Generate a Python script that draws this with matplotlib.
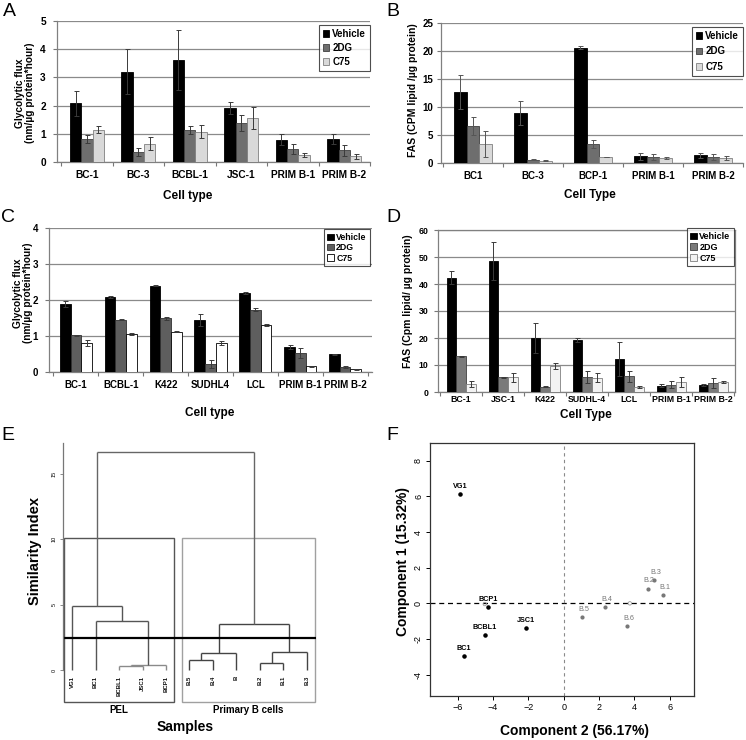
import numpy as np
import matplotlib
matplotlib.use('Agg')
import matplotlib.pyplot as plt
from matplotlib.patches import Rectangle
from matplotlib.patches import Patch

W, H = 746, 740
plt.rcParams['font.family'] = ['Liberation Sans', 'DejaVu Sans']

# ---------------- data ----------------
series = ['Vehicle', '2DG', 'C75']

a_cats = ['BC-1', 'BC-3', 'BCBL-1', 'JSC-1', 'PRIM B-1', 'PRIM B-2']
a_vehicle = [2.08, 3.20, 3.62, 1.91, 0.79, 0.81]
a_vehicle_err = [0.45, 0.79, 1.07, 0.22, 0.20, 0.18]
a_2dg = [0.82, 0.34, 1.14, 1.38, 0.47, 0.42]
a_2dg_err = [0.14, 0.14, 0.14, 0.28, 0.18, 0.19]
a_c75 = [1.14, 0.65, 1.08, 1.55, 0.24, 0.20]
a_c75_err = [0.12, 0.22, 0.24, 0.39, 0.08, 0.08]

b_cats = ['BC1', 'BC-3', 'BCP-1', 'PRIM B-1', 'PRIM B-2']
b_vehicle = [12.7, 8.9, 20.6, 1.18, 1.36]
b_vehicle_err = [3.0, 2.2, 0.3, 0.6, 0.5]
b_2dg = [6.6, 0.6, 3.4, 1.07, 1.0]
b_2dg_err = [1.65, 0.1, 0.77, 0.5, 0.55]
b_c75 = [3.4, 0.42, 1.07, 0.89, 0.83]
b_c75_err = [2.4, 0.05, 0.0, 0.2, 0.35]

c_cats = ['BC-1', 'BCBL-1', 'K422', 'SUDHL4', 'LCL', 'PRIM B-1', 'PRIM B-2']
c_vehicle = [1.89, 2.08, 2.40, 1.44, 2.19, 0.69, 0.49]
c_vehicle_err = [0.08, 0.02, 0.02, 0.17, 0.02, 0.05, 0.02]
c_2dg = [1.02, 1.45, 1.49, 0.22, 1.73, 0.53, 0.14]
c_2dg_err = [0.01, 0.01, 0.05, 0.11, 0.04, 0.14, 0.03]
c_c75 = [0.80, 1.06, 1.12, 0.80, 1.31, 0.16, 0.07]
c_c75_err = [0.08, 0.02, 0.01, 0.05, 0.03, 0.02, 0.01]

d_cats = ['BC-1', 'JSC-1', 'K422', 'SUDHL-4', 'LCL', 'PRIM B-1', 'PRIM B-2']
d_vehicle = [42.4, 48.5, 20.0, 19.3, 12.2, 2.3, 2.7]
d_vehicle_err = [2.4, 6.9, 5.7, 0.6, 6.3, 0.6, 0.3]
d_2dg = [13.2, 5.4, 2.0, 5.7, 5.8, 2.7, 3.3]
d_2dg_err = [0.3, 0.3, 0.2, 2.2, 2.1, 1.2, 1.8]
d_c75 = [3.0, 5.5, 9.7, 5.3, 1.9, 3.6, 3.7]
d_c75_err = [1.2, 1.7, 1.0, 1.7, 0.3, 1.9, 0.5]

e_leaves = ['VG1', 'BC1', 'BCBL1', 'JSC1', 'BCP1', 'B.5', 'B.4', 'B', 'B.2', 'B.1', 'B.3']
e_merge_left = [-3, 1, -2, -1, -6, 5, -9, 7, 6, 4]
e_merge_right = [-4, -5, 2, 3, -7, -8, -10, -11, 8, 9]
e_merge_height = [0.33, 0.40, 3.76, 4.90, 0.76, 1.27, 0.51, 1.37, 3.49, 16.67]
e_cut = 2.42
e_groups = ['PEL', 'Primary B cells']
e_group_first = [1, 6]
e_group_last = [5, 11]

f_pel_names = ['VG1', 'BCP1', 'BCBL1', 'BC1', 'JSC1']
f_pel_x = [-5.85, -4.28, -4.47, -5.64, -2.13]
f_pel_y = [6.13, -0.23, -1.78, -2.96, -1.41]
f_b_names = ['B.5', 'B.4', 'B.6', 'B.2', 'B.3', 'B.1']
f_b_x = [1.04, 2.36, 3.60, 4.74, 5.11, 5.62]
f_b_y = [-0.79, -0.23, -1.28, 0.83, 1.31, 0.45]
f_extra_x = [-4.47, 3.74]
f_extra_y = [-0.04, 0.0]

# ---------------- helpers ----------------
fig = plt.figure(figsize=(W / 100, H / 100), dpi=100)


def px_axes(l, t, r, b):
    return fig.add_axes([l / W, 1 - b / H, (r - l) / W, (b - t) / H])


def ftext(x, y, s, **kw):
    fig.text(x / W, 1 - y / H, s, **kw)


def bar_panel(ax, cats, vals, errs, fills, edges, width, ymax, ystep, xlim,
              fs_tick, leg_anchor, leg_fs, leg_spacing, frame=False, ecol='#3a3a3a',
              xpad=6, ypad=5):
    x = np.arange(len(cats))
    for i in range(3):
        ax.bar(x + (i - 1) * width, vals[i], width, yerr=errs[i], color=fills[i],
               edgecolor=edges[i], linewidth=0.6, label=series[i], zorder=3,
               error_kw=dict(ecolor=ecol, elinewidth=0.7, capsize=1.8, capthick=0.7, zorder=4))
    ax.set_xlim(*xlim)
    ax.set_ylim(0, ymax)
    ax.set_yticks(np.arange(0, ymax + 1e-6, ystep))
    ax.yaxis.grid(True, color='#8a8a8a', lw=0.9)
    ax.set_axisbelow(True)
    ax.set_xticks(x)
    ax.set_xticklabels(cats, fontsize=fs_tick, fontweight='bold')
    ax.set_xticks(np.arange(-0.5, len(cats)), minor=True)
    ax.tick_params(axis='x', which='major', length=0, pad=xpad)
    ax.tick_params(axis='x', which='minor', length=3, color='#777777', width=0.8)
    ax.tick_params(axis='y', length=3, color='#777777', labelsize=fs_tick, pad=ypad, width=0.8)
    for t in ax.get_yticklabels():
        t.set_fontweight('bold')
    for s in ['left', 'bottom']:
        ax.spines[s].set_color('#808080')
        ax.spines[s].set_linewidth(0.9)
    for s in ['top', 'right']:
        if frame:
            ax.spines[s].set_color('#808080')
            ax.spines[s].set_linewidth(0.9)
        else:
            ax.spines[s].set_visible(False)
    handles = [Patch(facecolor=fills[i], edgecolor=edges[i], linewidth=0.6) for i in range(3)]
    leg = ax.legend(handles, series, loc='upper right', bbox_to_anchor=leg_anchor,
                    prop={'weight': 'bold', 'size': leg_fs},
                    frameon=True, fancybox=False, borderaxespad=0, handlelength=0.7,
                    handleheight=0.7, handletextpad=0.3, labelspacing=leg_spacing,
                    borderpad=0.4)
    leg.get_frame().set_edgecolor('#222222')
    leg.get_frame().set_linewidth(0.8)
    leg.set_zorder(10)


# ---------------- panel A ----------------
axA = px_axes(57, 21, 370, 162)
bar_panel(axA, a_cats, [a_vehicle, a_2dg, a_c75], [a_vehicle_err, a_2dg_err, a_c75_err],
          ['#000000', '#6e6e6e', '#d9d9d9'], ['#000000', '#404040', '#808080'],
          0.22, 5, 1, (-0.58, 5.48), 7.3, (1.0, 0.97), 7, 0.4)
ftext(25, 93, 'Glycolytic flux\n(nm/µg protein*hour)', rotation=90, ha='center', va='center',
      fontsize=7.3, fontweight='bold', linespacing=1.1)
ftext(188, 196, 'Cell type', ha='center', va='center', fontsize=8.5, fontweight='bold')

# ---------------- panel B ----------------
axB = px_axes(441, 23, 743, 163)
bar_panel(axB, b_cats, [b_vehicle, b_2dg, b_c75], [b_vehicle_err, b_2dg_err, b_c75_err],
          ['#000000', '#6e6e6e', '#d9d9d9'], ['#000000', '#404040', '#808080'],
          0.21, 25, 5, (-0.53, 4.44), 7.0, (1.0, 0.97), 7, 0.55, ecol='#555555', ypad=2.5)
ftext(413, 90, 'FAS (CPM lipid /µg protein)', rotation=90, ha='center', va='center',
      fontsize=7.5, fontweight='bold')
ftext(590, 195, 'Cell Type', ha='center', va='center', fontsize=8.5, fontweight='bold')

# ---------------- panel C ----------------
axC = px_axes(49, 228, 372, 372)
bar_panel(axC, c_cats, [c_vehicle, c_2dg, c_c75], [c_vehicle_err, c_2dg_err, c_c75_err],
          ['#000000', '#5e5e5e', '#ffffff'], ['#000000', '#303030', '#000000'],
          0.238, 4, 1, (-0.6, 6.6), 7.0, (0.994, 0.99), 6.3, 0.15)
ftext(23, 293, 'Glycolytic flux\n(nm/µg protein*hour)', rotation=90, ha='center', va='center',
      fontsize=7.3, fontweight='bold', linespacing=1.1)
ftext(210, 413, 'Cell type', ha='center', va='center', fontsize=8.5, fontweight='bold')

# ---------------- panel D ----------------
axD = px_axes(438, 230, 735, 392)
bar_panel(axD, d_cats, [d_vehicle, d_2dg, d_c75], [d_vehicle_err, d_2dg_err, d_c75_err],
          ['#000000', '#7a7a7a', '#f2f2f2'], ['#000000', '#404040', '#808080'],
          0.23, 60, 10, (-0.55, 6.52), 6.3, (0.997, 1.01), 6.5, 0.2, frame=True,
          xpad=2.5, ypad=4)
ftext(408, 301, 'FAS (Cpm lipid/ µg protein)', rotation=90, ha='center', va='center',
      fontsize=7.5, fontweight='bold')
ftext(586, 415, 'Cell Type', ha='center', va='center', fontsize=8.5, fontweight='bold')

# ---------------- panel E ----------------
axE = px_axes(62.6, 443, 316.4, 702)
axE.set_xlim(0.6, 11.4)
axE.set_ylim(-2.44, 17.33)
merge_cols = ['#8a8a8a', '#8a8a8a', '#555555', '#555555', '#444444', '#444444',
              '#444444', '#444444', '#444444', '#666666']
node_x, node_h = {}, {}
for k in range(len(e_merge_height)):
    h = e_merge_height[k]
    xs = []
    for c in (e_merge_left[k], e_merge_right[k]):
        if c < 0:
            cx, ch = -c, 0.0
        else:
            cx, ch = node_x[c], node_h[c]
        axE.plot([cx, cx], [ch, h], color=merge_cols[k], lw=1.0, solid_capstyle='butt')
        xs.append(cx)
    axE.plot(xs, [h, h], color=merge_cols[k], lw=1.0, solid_capstyle='butt')
    node_x[k + 1] = sum(xs) / 2
    node_h[k + 1] = h
for i, name in enumerate(e_leaves):
    axE.annotate(name, (i + 1, 0), xytext=(0, -4), textcoords='offset points', rotation=90,
                 ha='center', va='top', fontsize=4.3, fontweight='bold', color='#111111')
box_top = (e_merge_height[-1] + e_merge_height[-2]) / 2
box_cols = ['#555555', '#a0a0a0']
for g in range(2):
    x0 = e_group_first[g] - 0.34
    x1 = e_group_last[g] + 0.33
    axE.add_patch(Rectangle((x0, -2.44), x1 - x0, box_top + 2.44, fill=False,
                            edgecolor=box_cols[g], lw=1.0, clip_on=False))
    axE.annotate(e_groups[g], ((x0 + x1) / 2, -2.44), xytext=(0, -2), textcoords='offset points',
                 ha='center', va='top', fontsize=7, fontweight='bold')
axE.axhline(e_cut, color='black', lw=1.6)
for s in ['top', 'right', 'bottom']:
    axE.spines[s].set_visible(False)
axE.spines['left'].set_bounds(0, 17.33)
axE.spines['left'].set_color('#777777')
axE.spines['left'].set_linewidth(0.9)
axE.set_xticks([])
axE.set_yticks([0, 5, 10, 15])
axE.set_yticklabels(['0', '5', '10', '15'], rotation=90, va='center', fontsize=4)
axE.tick_params(axis='y', length=2.5, width=0.6, pad=2, color='#777777', labelsize=4)
ftext(35, 551, 'Similarity Index', rotation=90, ha='center', va='center', fontsize=10.5,
      fontweight='bold')
ftext(185, 727, 'Samples', ha='center', va='center', fontsize=10, fontweight='bold')

# ---------------- panel F ----------------
axF = px_axes(430, 443, 694, 696)
axF.set_xlim(-7.57, 7.37)
axF.set_ylim(-5.2, 9.0)
axF.axhline(0, color='black', lw=0.9, ls=(0, (4, 3)), zorder=1)
axF.axvline(0, color='#8a8a8a', lw=0.8, ls=(0, (3, 3)), zorder=1)
axF.scatter(f_pel_x, f_pel_y, s=5, color='black', zorder=3)
axF.scatter(f_b_x, f_b_y, s=4, color='#777777', zorder=3)
axF.scatter(f_extra_x, f_extra_y, s=6, facecolor='none', edgecolor='#999999', lw=0.6, zorder=3)
for n, x, y in zip(f_pel_names, f_pel_x, f_pel_y):
    axF.annotate(n, (x, y), xytext=(0, 3), textcoords='offset points', ha='center', va='bottom',
                 fontsize=5.2, fontweight='bold', color='black')
for n, x, y in zip(f_b_names, f_b_x, f_b_y):
    axF.annotate(n, (x, y), xytext=(1, 3), textcoords='offset points', ha='center', va='bottom',
                 fontsize=5.2, color='#777777')
axF.set_xticks([-6, -4, -2, 0, 2, 4, 6])
axF.set_yticks([-4, -2, 0, 2, 4, 6, 8])
axF.set_yticklabels(['-4', '-2', '0', '2', '4', '6', '8'], rotation=90, va='center')
axF.tick_params(labelsize=6.5, length=3, width=0.7, pad=2)
for s in axF.spines.values():
    s.set_linewidth(0.9)
    s.set_color('#333333')
ftext(403, 562, 'Component 1 (15.32%)', rotation=90, ha='center', va='center', fontsize=10,
      fontweight='bold')
ftext(575, 731, 'Component 2 (56.17%)', ha='center', va='center', fontsize=10, fontweight='bold')

# ---------------- panel letters ----------------
for lab, x, y in [('A', 9, 12), ('B', 393, 12), ('C', 8, 217), ('D', 393, 217),
                  ('E', 8, 436), ('F', 392, 436)]:
    ftext(x, y, lab, ha='center', va='center', fontsize=14)

fig.savefig('out.png', dpi=100)
